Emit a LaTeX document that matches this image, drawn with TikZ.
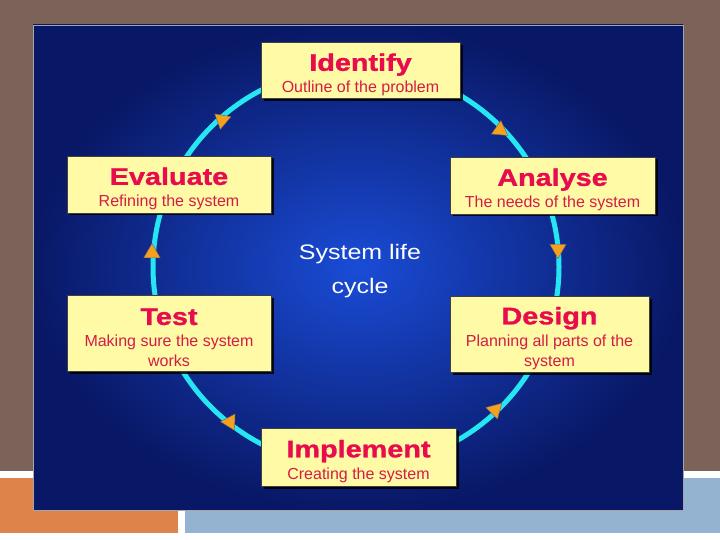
\documentclass[tikz,border=0pt]{standalone}
\usepackage{fontspec}
\setmainfont{Liberation Sans}
\newfontfamily\titlefont[FakeStretch=1.2,FakeBold=1.2]{Liberation Sans}
\newfontfamily\hubfont[FakeStretch=1.19]{Liberation Sans}
\usetikzlibrary{shapes.geometric,shadows}

\definecolor{slidebrown}{RGB}{123,99,89}
\definecolor{slideorange}{RGB}{222,132,74}
\definecolor{slideblue}{RGB}{148,179,209}
\definecolor{panelinner}{RGB}{26,76,214}
\definecolor{panelouter}{RGB}{9,24,102}
\definecolor{ringcyan}{RGB}{38,230,242}
\definecolor{headorange}{RGB}{245,160,30}
\definecolor{stageyellow}{RGB}{255,250,165}
\definecolor{titlered}{RGB}{232,12,78}
\definecolor{subred}{RGB}{212,28,72}

\newcommand{\stagetext}[2]{\rule{0pt}{26pt}{\titlefont\bfseries\fontsize{24}{28}\selectfont\color{titlered}#1}\\[2pt]#2}

\begin{document}
\begin{tikzpicture}[x=1pt,y=-1pt,
  stage/.style={draw=black!75,line width=0.5pt,fill=stageyellow,text=subred,align=center,
    font=\fontsize{16}{20}\selectfont,inner sep=0pt,
    drop shadow={shadow xshift=2.5pt,shadow yshift=-2.5pt,fill=black,opacity=0.85}},
  ring/.style={draw=ringcyan,line width=5pt},
  cyclehead/.style={regular polygon,regular polygon sides=3,minimum size=19pt,inner sep=0pt,
    fill=headorange,draw=black!60,line width=0.4pt}]
\useasboundingbox (0,0) rectangle (720,540);
% slide background
\fill[white] (0,0) rectangle (720,540);
\fill[slidebrown] (0,0) rectangle (720,471);
\fill[slideorange] (0,478) rectangle (178,533);
\fill[slideblue] (185,478) rectangle (720,533);
\shadedraw[inner color=panelinner,outer color=panelouter,draw=gray!70,line width=0.8pt] (33,25) rectangle (683,510);

% cycle ring
\coordinate (ringc) at (356,267);
\draw[ring] (ringc) ellipse [x radius=203pt,y radius=200pt];

\node[cyclehead,rotate=50] (head1) at (222,120) {};
\node[cyclehead,rotate=-5] (head2) at (500,130) {};
\node[cyclehead,rotate=180] (head3) at (558,249) {};
\node[cyclehead,rotate=75] (head4) at (495,410) {};
\node[cyclehead,rotate=-32] (head5) at (230,422) {};
\node[cyclehead] (head6) at (152,253) {};

% stages
\node[stage,minimum width=199pt,minimum height=56pt] (identify) at (360.5,70.5) {\stagetext{Identify}{Outline of the problem}};
\node[stage,minimum width=205pt,minimum height=57pt] (analyse) at (552.5,185.5) {\stagetext{Analyse}{The needs of the system}};
\node[stage,minimum width=199pt,minimum height=76pt] (design) at (549.5,334) {\stagetext{Design}{Planning all parts of the\\system}};
\node[stage,minimum width=195pt,minimum height=58pt] (implement) at (358.5,457) {\stagetext{Implement}{Creating the system}};
\node[stage,minimum width=204pt,minimum height=76pt] (test) at (169,333) {\stagetext{Test}{Making sure the system\\works}};
\node[stage,minimum width=204pt,minimum height=57pt] (evaluate) at (169,184.5) {\stagetext{Evaluate}{Refining the system}};

\node[text=white,font=\hubfont\fontsize{21}{34}\selectfont,align=center] (hub) at (360,271) {System life\\cycle};
\end{tikzpicture}
\end{document}
